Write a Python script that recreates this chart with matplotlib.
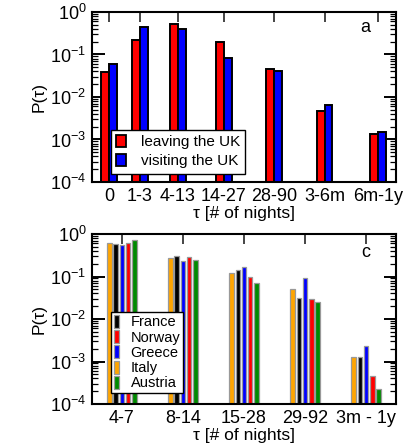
import matplotlib
matplotlib.use("Agg")
import matplotlib.pyplot as plt
from matplotlib.patches import Patch
from matplotlib.ticker import LogLocator, NullFormatter

plt.rcParams['font.family'] = ['Liberation Sans', 'DejaVu Sans']
plt.rcParams['mathtext.fontset'] = 'custom'
plt.rcParams['mathtext.rm'] = 'Liberation Sans'
plt.rcParams['mathtext.it'] = 'Liberation Sans:italic'
plt.rcParams['mathtext.bf'] = 'Liberation Sans:bold'

# ---- panel a data ----
cats_a = ["0", "1-3", "4-13", "14-27", "28-90", "3-6m", "6m-1y"]
leaving_uk = [0.039, 0.22, 0.51, 0.20, 0.046, 0.0046, 0.00135]
visiting_uk = [0.060, 0.44, 0.39, 0.081, 0.041, 0.0066, 0.00148]
pos_a = [0.56, 1.58, 2.83, 4.34, 5.99, 7.66, 9.41]

# ---- panel c data ----
cats_c = ["4-7", "8-14", "15-28", "29-92", "3m - 1y"]
italy = [0.60, 0.27, 0.123, 0.050, 0.00127]
france = [0.57, 0.31, 0.144, 0.0307, 0.00127]
greece = [0.55, 0.235, 0.167, 0.091, 0.00227]
norway = [0.62, 0.28, 0.099, 0.029, 0.00044]
austria = [0.71, 0.24, 0.071, 0.0257, 0.00022]

W, H = 414, 447
fig = plt.figure(figsize=(W / 100, H / 100), dpi=100)
axa = fig.add_axes([92 / W, 1 - 182 / H, 304 / W, 170 / H])
axc = fig.add_axes([92 / W, 1 - 404 / H, 304 / W, 170 / H])


def style_axis(ax):
    ax.set_yscale('log')
    ax.set_ylim(1e-4, 1)
    ax.yaxis.set_major_locator(LogLocator(base=10, numticks=10))
    ax.yaxis.set_minor_locator(LogLocator(base=10, subs=range(2, 10), numticks=10))
    ax.yaxis.set_minor_formatter(NullFormatter())
    ax.tick_params(axis='both', which='major', direction='in', top=True, right=True,
                   length=9, width=1.4, labelsize=13, pad=4)
    ax.tick_params(axis='y', which='minor', direction='in', left=True, right=True,
                   length=4.5, width=0.9)
    ax.tick_params(axis='x', which='major', length=7, color='#444444')
    ax.tick_params(axis='x', which='minor', bottom=False, top=False)
    for s in ax.spines.values():
        s.set_linewidth(1.5)
    ax.set_ylabel('P(τ)', fontsize=12.5, labelpad=3)
    ax.set_xlabel('τ [# of nights]', fontsize=12.5, labelpad=1)


# panel a
wa = 0.25
axa.bar([p - wa / 2 for p in pos_a], leaving_uk, width=wa, bottom=1e-5,
        color='#ff0000', edgecolor='black', linewidth=1.4, label='leaving the UK', zorder=2)
axa.bar([p + wa / 2 for p in pos_a], visiting_uk, width=wa, bottom=1e-5,
        color='#0000ff', edgecolor='black', linewidth=1.4, label='visiting the UK', zorder=2)
axa.set_xlim(0, 10)
style_axis(axa)
axa.set_xticks(pos_a)
axa.set_xticklabels(cats_a)
axa.text(0.90, 0.91, 'a', transform=axa.transAxes, fontsize=13, ha='center', va='center')
ha = [Patch(facecolor='#ff0000', edgecolor='black', linewidth=1.3),
      Patch(facecolor='#0000ff', edgecolor='black', linewidth=1.3)]
leg = axa.legend(ha, ['leaving the UK', 'visiting the UK'], loc='upper left',
                 bbox_to_anchor=(0.0625, 0.306), borderaxespad=0, fontsize=11,
                 handlelength=0.6, handleheight=0.8, handletextpad=1.0,
                 labelspacing=0.3, borderpad=0.35, fancybox=False, framealpha=1)
leg.get_frame().set_edgecolor('black')
leg.get_frame().set_linewidth(1.0)
leg.set_zorder(5)

# panel c
xc = list(range(len(cats_c)))
step = 0.103
wc = 0.072
series_c = [(italy, '#ffa500', 'Italy'), (france, '#000000', 'France'),
            (greece, '#0000ff', 'Greece'), (norway, '#ff0000', 'Norway'),
            (austria, '#008a00', 'Austria')]
for i, (vals, col, name) in enumerate(series_c):
    off = (i - 2) * step
    axc.bar([x + off for x in xc], vals, width=wc, bottom=1e-5, color=col,
            edgecolor='#999999', linewidth=0.9, zorder=2)
axc.set_xlim(-0.49, 4.49)
style_axis(axc)
axc.set_xticks(xc)
axc.set_xticklabels(cats_c)
axc.text(0.90, 0.89, 'c', transform=axc.transAxes, fontsize=13, ha='center', va='center')
cmap = {n: c for _, c, n in series_c}
order = ['France', 'Norway', 'Greece', 'Italy', 'Austria']
hc = [Patch(facecolor=cmap[n], edgecolor='#999999', linewidth=0.9) for n in order]
legc = axc.legend(hc, order, loc='upper left', bbox_to_anchor=(0.0625, 0.541),
                  borderaxespad=0, fontsize=10.5, handlelength=0.35, handleheight=1.0,
                  handletextpad=0.8, labelspacing=0.05, borderpad=0.2,
                  fancybox=False, framealpha=1)
legc.get_frame().set_edgecolor('black')
legc.get_frame().set_linewidth(1.0)
legc.set_zorder(5)

fig.savefig('out.png', dpi=100)
